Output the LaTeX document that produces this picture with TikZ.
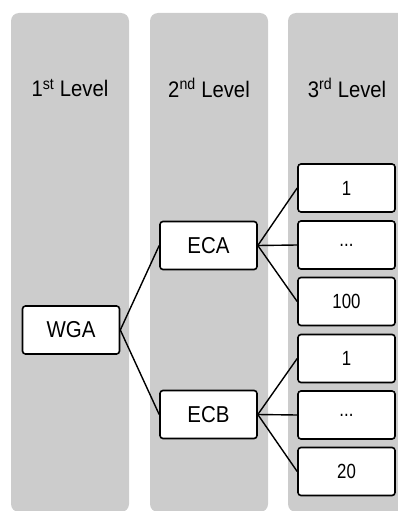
\documentclass[tikz,border=0pt]{standalone}
\usepackage{fontspec}
\setmainfont{Liberation Sans}
\definecolor{colgray}{RGB}{204,204,204}
\newcommand{\narrow}[2]{\scalebox{#1}[1]{#2}}
\begin{document}
\begin{tikzpicture}[x=1pt,y=-1pt,
  column/.style={fill=colgray,draw=none,rounded corners=8pt},
  lvl/.style={font=\fontsize{22.5}{26}\selectfont,inner sep=0pt},
  box/.style={draw=black,line width=1.6pt,fill=white,rounded corners=3pt,minimum width=97pt,minimum height=48pt,inner sep=0pt,font=\fontsize{23}{26}\selectfont},
  sbox/.style={box,font=\fontsize{20.5}{24}\selectfont},
  link/.style={line width=1.4pt}]
\useasboundingbox (0,0) rectangle (397,511);
\fill[column] (11,13) rectangle (129,512);
\fill[column] (150,13) rectangle (268,512);
\fill[column] (288,13) rectangle (420,512);
\node[lvl] (l1) at (70,88) {\narrow{0.9}{1\textsuperscript{st} Level}};
\node[lvl] (l2) at (209,88) {\narrow{0.9}{2\textsuperscript{nd} Level}};
\node[lvl] (l3) at (347,88) {\narrow{0.9}{3\textsuperscript{rd} Level}};
\node[box] (wga) at (71,330) {\narrow{0.89}{WGA}};
\node[box] (eca) at (208.5,245.5) {\narrow{0.89}{ECA}};
\node[box] (ecb) at (208.5,414.5) {\narrow{0.89}{ECB}};
\node[sbox] (a1) at (346.5,188) {\narrow{0.82}{1}};
\node[sbox] (a2) at (346.5,245) {\narrow{0.82}{...}};
\node[sbox] (a3) at (346.5,301.5) {\narrow{0.82}{100}};
\node[sbox] (b1) at (346.5,358.5) {\narrow{0.82}{1}};
\node[sbox] (b2) at (346.5,415) {\narrow{0.82}{...}};
\node[sbox] (b3) at (346.5,471.5) {\narrow{0.82}{20}};
\draw[link] (wga.east) -- (eca.west);
\draw[link] (wga.east) -- (ecb.west);
\foreach \t in {a1,a2,a3} \draw[link] (eca.east) -- (\t.west);
\foreach \t in {b1,b2,b3} \draw[link] (ecb.east) -- (\t.west);
\end{tikzpicture}
\end{document}
